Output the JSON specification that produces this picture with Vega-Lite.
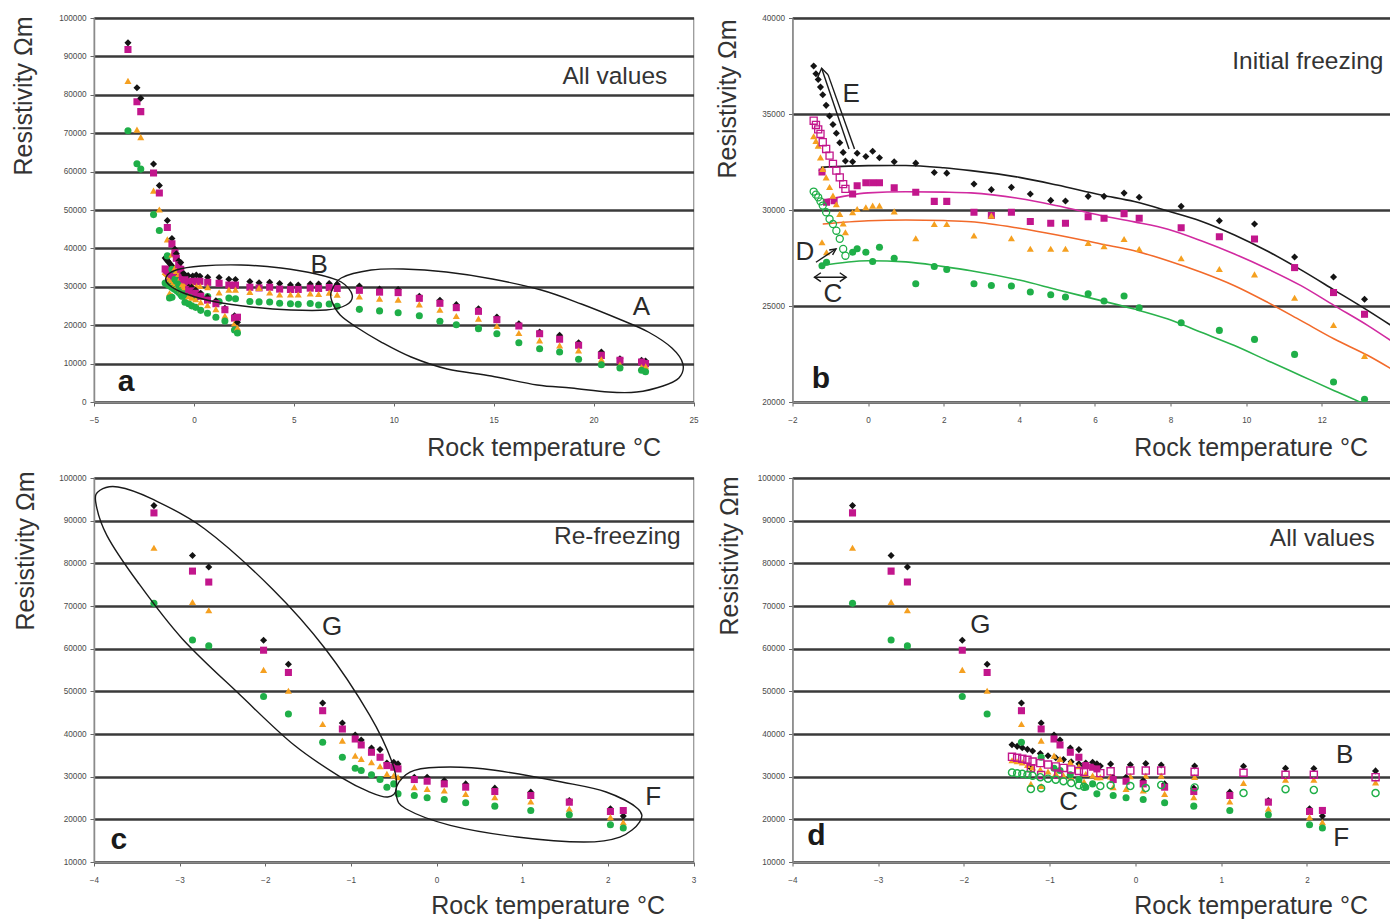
{
  "$schema": "https://vega.github.io/schema/vega-lite/v6.json",
  "background": "white",
  "padding": {"left": 10, "top": 12, "right": 0, "bottom": 0},
  "datasets": {
    "measurements": [
      {"phase": "IF", "stage": "main", "t": 22.6, "s1": 10700, "s2": 10000, "s3": 9300, "s4": 7900},
      {"phase": "IF", "stage": "main", "t": 22.4, "s1": 10850, "s2": 10420, "s3": 9110, "s4": 8250},
      {"phase": "IF", "stage": "main", "t": 21.32, "s1": 11280, "s2": 10850, "s3": 9720, "s4": 8850},
      {"phase": "IF", "stage": "main", "t": 20.39, "s1": 13020, "s2": 12150, "s3": 11110, "s4": 9720},
      {"phase": "IF", "stage": "main", "t": 19.25, "s1": 15450, "s2": 14760, "s3": 13460, "s4": 11110},
      {"phase": "IF", "stage": "main", "t": 18.3, "s1": 17360, "s2": 16320, "s3": 14760, "s4": 13020},
      {"phase": "IF", "stage": "main", "t": 17.3, "s1": 18230, "s2": 17790, "s3": 16060, "s4": 13890},
      {"phase": "IF", "stage": "main", "t": 16.26, "s1": 20400, "s2": 19790, "s3": 17970, "s4": 15450},
      {"phase": "IF", "stage": "main", "t": 15.16, "s1": 22130, "s2": 21440, "s3": 19790, "s4": 17790},
      {"phase": "IF", "stage": "main", "t": 14.24, "s1": 24300, "s2": 23610, "s3": 21700, "s4": 19100},
      {"phase": "IF", "stage": "main", "t": 13.13, "s1": 25350, "s2": 24570, "s3": 22400, "s4": 20140},
      {"phase": "IF", "stage": "main", "t": 12.31, "s1": 26510, "s2": 25700, "s3": 24010, "s4": 21040},
      {"phase": "IF", "stage": "main", "t": 11.28, "s1": 27550, "s2": 27000, "s3": 25430, "s4": 22480},
      {"phase": "IF", "stage": "main", "t": 10.22, "s1": 29270, "s2": 28490, "s3": 26650, "s4": 23260},
      {"phase": "IF", "stage": "main", "t": 9.29, "s1": 29440, "s2": 28610, "s3": 26930, "s4": 23730},
      {"phase": "IF", "stage": "main", "t": 8.28, "s1": 30190, "s2": 29080, "s3": 27490, "s4": 24130},
      {"phase": "IF", "stage": "main", "t": 7.17, "s1": 30660, "s2": 29570, "s3": 27970, "s4": 24910},
      {"phase": "IF", "stage": "main", "t": 6.77, "s1": 30880, "s2": 29810, "s3": 28490, "s4": 25520},
      {"phase": "IF", "stage": "main", "t": 6.24, "s1": 30710, "s2": 29570, "s3": 28110, "s4": 25260},
      {"phase": "IF", "stage": "main", "t": 5.82, "s1": 30710, "s2": 29650, "s3": 28290, "s4": 25640},
      {"phase": "IF", "stage": "main", "t": 5.22, "s1": 30470, "s2": 29310, "s3": 27980, "s4": 25470},
      {"phase": "IF", "stage": "main", "t": 4.83, "s1": 30500, "s2": 29310, "s3": 27980, "s4": 25590},
      {"phase": "IF", "stage": "main", "t": 4.29, "s1": 30830, "s2": 29400, "s3": 27980, "s4": 25730},
      {"phase": "IF", "stage": "main", "t": 3.79, "s1": 31180, "s2": 29880, "s3": 28530, "s4": 26040},
      {"phase": "IF", "stage": "main", "t": 3.26, "s1": 31060, "s2": 29710, "s3": 29710, "s4": 26070},
      {"phase": "IF", "stage": "main", "t": 2.8, "s1": 31350, "s2": 29880, "s3": 28670, "s4": 26160},
      {"phase": "IF", "stage": "main", "t": 2.08, "s1": 31920, "s2": 30450, "s3": 29270, "s4": 26900},
      {"phase": "IF", "stage": "main", "t": 1.75, "s1": 31950, "s2": 30450, "s3": 29270, "s4": 27060},
      {"phase": "IF", "stage": "main", "t": 1.26, "s1": 32440, "s2": 30920, "s3": 28530, "s4": 26160},
      {"phase": "IF", "stage": "main", "t": 0.69, "s1": 32510, "s2": 31160, "s3": 29930, "s4": 27490},
      {"phase": "IF", "stage": "main", "t": 0.3, "s1": 32720, "s2": 31420, "s3": 30230, "s4": 28060},
      {"phase": "IF", "stage": "main", "t": 0.12, "s1": 33060, "s2": 31420, "s3": 30230, "s4": 27320},
      {"phase": "IF", "stage": "main", "t": -0.06, "s1": 32790, "s2": 31420, "s3": 30140, "s4": 27800},
      {"phase": "IF", "stage": "main", "t": -0.29, "s1": 32960, "s2": 31260, "s3": 30050, "s4": 27980},
      {"phase": "IF", "stage": "main", "t": -0.41, "s1": 32510, "s2": 30830, "s3": 29880, "s4": 27800},
      {"phase": "IF", "stage": "main", "t": -1.22, "s1": 32050, "s2": 31980, "s3": 28320, "s4": 27100},
      {"phase": "IF", "stage": "main", "t": -1.1, "s1": null, "s2": 30400, "s3": 27800, "s4": 27280},
      {"phase": "IF", "stage": "main", "t": -0.9, "s1": null, "s2": 30490, "s3": null, "s4": null},
      {"phase": "IF", "stage": "transition", "t": -1.44, "s1": 37500, "s2": 34650, "s3": 33840, "s4": 30960},
      {"phase": "IF", "stage": "transition", "t": -1.38, "s1": 37100, "s2": 34430, "s3": 33600, "s4": 30800},
      {"phase": "IF", "stage": "transition", "t": -1.32, "s1": 36800, "s2": 34200, "s3": 33350, "s4": 30660},
      {"phase": "IF", "stage": "transition", "t": -1.26, "s1": 36400, "s2": 33960, "s3": 32740, "s4": 30450},
      {"phase": "IF", "stage": "transition", "t": -1.2, "s1": 36000, "s2": 33530, "s3": 32140, "s4": 30230},
      {"phase": "IF", "stage": "transition", "t": -1.11, "s1": 35450, "s2": 33180, "s3": 31700, "s4": 29880},
      {"phase": "IF", "stage": "transition", "t": -1.02, "s1": 34900, "s2": 32830, "s3": 31200, "s4": 29530},
      {"phase": "IF", "stage": "transition", "t": -0.93, "s1": 34450, "s2": 32400, "s3": 30750, "s4": 29270},
      {"phase": "IF", "stage": "transition", "t": -0.84, "s1": 34000, "s2": 32050, "s3": 30300, "s4": 28920},
      {"phase": "IF", "stage": "transition", "t": -0.75, "s1": 33500, "s2": 31700, "s3": 29800, "s4": 28500},
      {"phase": "IF", "stage": "transition", "t": -0.66, "s1": 33000, "s2": 31350, "s3": 29300, "s4": 27970},
      {"phase": "IF", "stage": "transition", "t": -0.6, "s1": 32550, "s2": 31100, "s3": 28840, "s4": 27620},
      {"phase": "RF", "stage": "main", "t": -3.3, "s1": 93530, "s2": 91820, "s3": 83640, "s4": 70620},
      {"phase": "RF", "stage": "main", "t": -2.85, "s1": 81840, "s2": 78180, "s3": 70940, "s4": 62050},
      {"phase": "RF", "stage": "main", "t": -2.66, "s1": 79120, "s2": 75610, "s3": 68990, "s4": 60650},
      {"phase": "RF", "stage": "main", "t": -2.02, "s1": 61970, "s2": 59640, "s3": 55040, "s4": 48800},
      {"phase": "RF", "stage": "main", "t": -1.73, "s1": 56360, "s2": 54420, "s3": 50130, "s4": 44680},
      {"phase": "RF", "stage": "main", "t": -1.33, "s1": 47250, "s2": 45460, "s3": 42340, "s4": 38050},
      {"phase": "RF", "stage": "main", "t": -1.1, "s1": 42570, "s2": 41170, "s3": 38440, "s4": 34550},
      {"phase": "RF", "stage": "main", "t": -0.95, "s1": 39770, "s2": 38830, "s3": 34940, "s4": 31980},
      {"phase": "RF", "stage": "main", "t": -0.88, "s1": 38600, "s2": 37430, "s3": 34160, "s4": 31430},
      {"phase": "RF", "stage": "main", "t": -0.76, "s1": 36730, "s2": 35720, "s3": 33380, "s4": 30420},
      {"phase": "RF", "stage": "main", "t": -0.66, "s1": 36340, "s2": 34550, "s3": 32450, "s4": 29330},
      {"phase": "RF", "stage": "main", "t": -0.58, "s1": 33220, "s2": 32600, "s3": 30650, "s4": 27540},
      {"phase": "RF", "stage": "main", "t": -0.5, "s1": 33380, "s2": 32210, "s3": 30260, "s4": 28310},
      {"phase": "RF", "stage": "main", "t": -0.45, "s1": 32990, "s2": 31820, "s3": 29870, "s4": 25970},
      {"phase": "RF", "stage": "main", "t": -0.26, "s1": 29870, "s2": 29330, "s3": 27540, "s4": 25590},
      {"phase": "RF", "stage": "main", "t": -0.11, "s1": 29870, "s2": 28940, "s3": 27150, "s4": 25040},
      {"phase": "RF", "stage": "main", "t": 0.09, "s1": 29090, "s2": 28310, "s3": 26760, "s4": 24650},
      {"phase": "RF", "stage": "main", "t": 0.34, "s1": 28310, "s2": 27540, "s3": 25970, "s4": 23870},
      {"phase": "RF", "stage": "main", "t": 0.68, "s1": 27310, "s2": 26520, "s3": 25190, "s4": 23090},
      {"phase": "RF", "stage": "main", "t": 1.1, "s1": 26370, "s2": 25590, "s3": 24180, "s4": 22080},
      {"phase": "RF", "stage": "main", "t": 1.55, "s1": 24420, "s2": 24030, "s3": 22470, "s4": 21070},
      {"phase": "RF", "stage": "main", "t": 2.03, "s1": 22470, "s2": 21850, "s3": 20520, "s4": 18730},
      {"phase": "RF", "stage": "main", "t": 2.18, "s1": 20760, "s2": 22080, "s3": 19350, "s4": 17950}
    ],
    "trend": [
      {"series": "s1", "t": -1.25, "res": 32220}, {"series": "s1", "t": 0, "res": 32310}, {"series": "s1", "t": 1, "res": 32320},
      {"series": "s1", "t": 2, "res": 32200}, {"series": "s1", "t": 2.72, "res": 32050}, {"series": "s1", "t": 4, "res": 31700},
      {"series": "s1", "t": 5, "res": 31300}, {"series": "s1", "t": 6.16, "res": 30780}, {"series": "s1", "t": 7.04, "res": 30440},
      {"series": "s1", "t": 7.93, "res": 29950}, {"series": "s1", "t": 8.81, "res": 29420}, {"series": "s1", "t": 9.69, "res": 28700},
      {"series": "s1", "t": 10.57, "res": 27850}, {"series": "s1", "t": 11.45, "res": 26880}, {"series": "s1", "t": 12.33, "res": 25830},
      {"series": "s1", "t": 13.22, "res": 24760}, {"series": "s1", "t": 13.9, "res": 23900},
      {"series": "s2", "t": -1.2, "res": 30490}, {"series": "s2", "t": 0, "res": 30890}, {"series": "s2", "t": 1, "res": 30950},
      {"series": "s2", "t": 2, "res": 30930}, {"series": "s2", "t": 2.72, "res": 30890}, {"series": "s2", "t": 4, "res": 30600},
      {"series": "s2", "t": 5, "res": 30220}, {"series": "s2", "t": 6.16, "res": 29710}, {"series": "s2", "t": 7.04, "res": 29380},
      {"series": "s2", "t": 7.93, "res": 29000}, {"series": "s2", "t": 8.81, "res": 28400}, {"series": "s2", "t": 9.69, "res": 27710},
      {"series": "s2", "t": 10.57, "res": 26930}, {"series": "s2", "t": 11.45, "res": 26060}, {"series": "s2", "t": 12.33, "res": 25020},
      {"series": "s2", "t": 13.22, "res": 23980}, {"series": "s2", "t": 13.9, "res": 23100},
      {"series": "s3", "t": -1.2, "res": 29270}, {"series": "s3", "t": 0, "res": 29440}, {"series": "s3", "t": 1, "res": 29480},
      {"series": "s3", "t": 2, "res": 29450}, {"series": "s3", "t": 2.72, "res": 29390}, {"series": "s3", "t": 4, "res": 29050},
      {"series": "s3", "t": 5, "res": 28700}, {"series": "s3", "t": 6.16, "res": 28230}, {"series": "s3", "t": 7.04, "res": 27880},
      {"series": "s3", "t": 7.93, "res": 27360}, {"series": "s3", "t": 8.81, "res": 26760}, {"series": "s3", "t": 9.69, "res": 26060},
      {"series": "s3", "t": 10.57, "res": 25190}, {"series": "s3", "t": 11.45, "res": 24240}, {"series": "s3", "t": 12.33, "res": 23280},
      {"series": "s3", "t": 13.22, "res": 22420}, {"series": "s3", "t": 13.9, "res": 21650},
      {"series": "s4", "t": -1.25, "res": 27100}, {"series": "s4", "t": 0, "res": 27360}, {"series": "s4", "t": 1, "res": 27300},
      {"series": "s4", "t": 2, "res": 27050}, {"series": "s4", "t": 2.72, "res": 26840}, {"series": "s4", "t": 4, "res": 26350},
      {"series": "s4", "t": 5, "res": 25850}, {"series": "s4", "t": 6.16, "res": 25280}, {"series": "s4", "t": 7.04, "res": 24840},
      {"series": "s4", "t": 7.93, "res": 24320}, {"series": "s4", "t": 8.81, "res": 23630}, {"series": "s4", "t": 9.69, "res": 22940},
      {"series": "s4", "t": 10.57, "res": 22150}, {"series": "s4", "t": 11.45, "res": 21370}, {"series": "s4", "t": 12.33, "res": 20590},
      {"series": "s4", "t": 13.0, "res": 20000}, {"series": "s4", "t": 13.5, "res": 19500}
    ],
    "arrows": [
      {"seg": "E1", "k": 0, "t": -0.505, "res": 33180}, {"seg": "E1", "k": 1, "t": -1.23, "res": 37380},
      {"seg": "E2", "k": 0, "t": -0.36, "res": 33180}, {"seg": "E2", "k": 1, "t": -1.06, "res": 37050},
      {"seg": "Eh", "k": 0, "t": -1.34, "res": 36875}, {"seg": "Eh", "k": 1, "t": -1.23, "res": 37380}, {"seg": "Eh", "k": 2, "t": -1.06, "res": 37050},
      {"seg": "D1", "k": 0, "t": -1.38, "res": 27280}, {"seg": "D1", "k": 1, "t": -0.85, "res": 27970},
      {"seg": "Dh", "k": 0, "t": -1.03, "res": 27920}, {"seg": "Dh", "k": 1, "t": -0.85, "res": 27970}, {"seg": "Dh", "k": 2, "t": -0.94, "res": 27660},
      {"seg": "C1", "k": 0, "t": -1.42, "res": 26500}, {"seg": "C1", "k": 1, "t": -0.58, "res": 26500},
      {"seg": "Ch1", "k": 0, "t": -1.25, "res": 26730}, {"seg": "Ch1", "k": 1, "t": -1.42, "res": 26500}, {"seg": "Ch1", "k": 2, "t": -1.25, "res": 26270},
      {"seg": "Ch2", "k": 0, "t": -0.75, "res": 26730}, {"seg": "Ch2", "k": 1, "t": -0.58, "res": 26500}, {"seg": "Ch2", "k": 2, "t": -0.75, "res": 26270}
    ],
    "ellipses": [
      {"panel": "a", "id": "B", "k": 0, "t": -1.39, "res": 32550},
      {"panel": "a", "id": "B", "k": 1, "t": -0.89, "res": 34370},
      {"panel": "a", "id": "B", "k": 2, "t": 0.36, "res": 35410},
      {"panel": "a", "id": "B", "k": 3, "t": 2.36, "res": 35670},
      {"panel": "a", "id": "B", "k": 4, "t": 4.36, "res": 34890},
      {"panel": "a", "id": "B", "k": 5, "t": 6.12, "res": 33330},
      {"panel": "a", "id": "B", "k": 6, "t": 7.37, "res": 31250},
      {"panel": "a", "id": "B", "k": 7, "t": 7.92, "res": 27860},
      {"panel": "a", "id": "B", "k": 8, "t": 7.62, "res": 25260},
      {"panel": "a", "id": "B", "k": 9, "t": 6.62, "res": 23960},
      {"panel": "a", "id": "B", "k": 10, "t": 4.86, "res": 23960},
      {"panel": "a", "id": "B", "k": 11, "t": 2.86, "res": 24740},
      {"panel": "a", "id": "B", "k": 12, "t": 1.11, "res": 26040},
      {"panel": "a", "id": "B", "k": 13, "t": -0.39, "res": 28120},
      {"panel": "a", "id": "B", "k": 14, "t": -1.24, "res": 30470},
      {"panel": "a", "id": "A", "k": 0, "t": 6.87, "res": 28640},
      {"panel": "a", "id": "A", "k": 1, "t": 7.37, "res": 32290},
      {"panel": "a", "id": "A", "k": 2, "t": 8.87, "res": 34370},
      {"panel": "a", "id": "A", "k": 3, "t": 10.47, "res": 34630},
      {"panel": "a", "id": "A", "k": 4, "t": 12.63, "res": 33850},
      {"panel": "a", "id": "A", "k": 5, "t": 14.93, "res": 32030},
      {"panel": "a", "id": "A", "k": 6, "t": 17.38, "res": 29160},
      {"panel": "a", "id": "A", "k": 7, "t": 19.39, "res": 25520},
      {"panel": "a", "id": "A", "k": 8, "t": 21.39, "res": 21350},
      {"panel": "a", "id": "A", "k": 9, "t": 22.74, "res": 18230},
      {"panel": "a", "id": "A", "k": 10, "t": 23.92, "res": 14060},
      {"panel": "a", "id": "A", "k": 11, "t": 24.47, "res": 9900},
      {"panel": "a", "id": "A", "k": 12, "t": 24.27, "res": 6250},
      {"panel": "a", "id": "A", "k": 13, "t": 23.47, "res": 4170},
      {"panel": "a", "id": "A", "k": 14, "t": 22.16, "res": 2600},
      {"panel": "a", "id": "A", "k": 15, "t": 20.74, "res": 2600},
      {"panel": "a", "id": "A", "k": 16, "t": 18.89, "res": 3650},
      {"panel": "a", "id": "A", "k": 17, "t": 17.18, "res": 4430},
      {"panel": "a", "id": "A", "k": 18, "t": 14.88, "res": 6770},
      {"panel": "a", "id": "A", "k": 19, "t": 12.68, "res": 8590},
      {"panel": "a", "id": "A", "k": 20, "t": 10.87, "res": 11720},
      {"panel": "a", "id": "A", "k": 21, "t": 9.37, "res": 15620},
      {"panel": "a", "id": "A", "k": 22, "t": 8.12, "res": 19530},
      {"panel": "a", "id": "A", "k": 23, "t": 7.32, "res": 22650},
      {"panel": "a", "id": "A", "k": 24, "t": 6.92, "res": 26040},
      {"panel": "c", "id": "G", "k": 0, "t": -3.93, "res": 97120},
      {"panel": "c", "id": "G", "k": 1, "t": -3.72, "res": 97890},
      {"panel": "c", "id": "G", "k": 2, "t": -3.33, "res": 95150},
      {"panel": "c", "id": "G", "k": 3, "t": -2.71, "res": 88120},
      {"panel": "c", "id": "G", "k": 4, "t": -1.92, "res": 74050},
      {"panel": "c", "id": "G", "k": 5, "t": -1.3, "res": 59990},
      {"panel": "c", "id": "G", "k": 6, "t": -0.78, "res": 44380},
      {"panel": "c", "id": "G", "k": 7, "t": -0.52, "res": 33430},
      {"panel": "c", "id": "G", "k": 8, "t": -0.47, "res": 27170},
      {"panel": "c", "id": "G", "k": 9, "t": -0.57, "res": 25230},
      {"panel": "c", "id": "G", "k": 10, "t": -0.78, "res": 26400},
      {"panel": "c", "id": "G", "k": 11, "t": -1.09, "res": 29520},
      {"panel": "c", "id": "G", "k": 12, "t": -1.66, "res": 37350},
      {"panel": "c", "id": "G", "k": 13, "t": -2.29, "res": 49070},
      {"panel": "c", "id": "G", "k": 14, "t": -2.97, "res": 62330},
      {"panel": "c", "id": "G", "k": 15, "t": -3.49, "res": 75620},
      {"panel": "c", "id": "G", "k": 16, "t": -3.85, "res": 86570},
      {"panel": "c", "id": "G", "k": 17, "t": -3.98, "res": 94370},
      {"panel": "c", "id": "F", "k": 0, "t": -0.44, "res": 28740},
      {"panel": "c", "id": "F", "k": 1, "t": -0.26, "res": 31490},
      {"panel": "c", "id": "F", "k": 2, "t": 0.16, "res": 32260},
      {"panel": "c", "id": "F", "k": 3, "t": 0.68, "res": 31490},
      {"panel": "c", "id": "F", "k": 4, "t": 1.46, "res": 28740},
      {"panel": "c", "id": "F", "k": 5, "t": 1.98, "res": 26400},
      {"panel": "c", "id": "F", "k": 6, "t": 2.35, "res": 22480},
      {"panel": "c", "id": "F", "k": 7, "t": 2.37, "res": 19370},
      {"panel": "c", "id": "F", "k": 8, "t": 2.14, "res": 15850},
      {"panel": "c", "id": "F", "k": 9, "t": 1.72, "res": 14680},
      {"panel": "c", "id": "F", "k": 10, "t": 0.94, "res": 15850},
      {"panel": "c", "id": "F", "k": 11, "t": 0.16, "res": 18590},
      {"panel": "c", "id": "F", "k": 12, "t": -0.36, "res": 22480},
      {"panel": "c", "id": "F", "k": 13, "t": -0.47, "res": 25620}
    ],
    "notes": [
      {"panel": "a", "kind": "title", "label": "All values", "t": 23.69, "res": 84630},
      {"panel": "a", "kind": "panel", "label": "a", "t": -3.4, "res": 5200},
      {"panel": "a", "kind": "letter", "label": "B", "t": 6.27, "res": 35670},
      {"panel": "a", "kind": "letter", "label": "A", "t": 22.39, "res": 24740},
      {"panel": "b", "kind": "title", "label": "Initial freezing", "t": 13.63, "res": 37710},
      {"panel": "b", "kind": "panel", "label": "b", "t": -1.25, "res": 21200},
      {"panel": "b", "kind": "letter", "label": "E", "t": -0.45, "res": 36040},
      {"panel": "b", "kind": "letter", "label": "D", "t": -1.67, "res": 27810},
      {"panel": "b", "kind": "letter", "label": "C", "t": -0.93, "res": 25620},
      {"panel": "c", "kind": "title", "label": "Re-freezing", "t": 2.85, "res": 86170},
      {"panel": "c", "kind": "panel", "label": "c", "t": -3.71, "res": 15150},
      {"panel": "c", "kind": "letter", "label": "G", "t": -1.22, "res": 65070},
      {"panel": "c", "kind": "letter", "label": "F", "t": 2.53, "res": 25230},
      {"panel": "d", "kind": "title", "label": "All values", "t": 2.79, "res": 85700},
      {"panel": "d", "kind": "panel", "label": "d", "t": -3.72, "res": 16090},
      {"panel": "d", "kind": "letter", "label": "G", "t": -1.81, "res": 65540},
      {"panel": "d", "kind": "letter", "label": "B", "t": 2.44, "res": 35070},
      {"panel": "d", "kind": "letter", "label": "C", "t": -0.78, "res": 24050},
      {"panel": "d", "kind": "letter", "label": "F", "t": 2.4, "res": 15620}
    ]
  },
  "columns": 2,
  "spacing": {"row": 76, "column": 98.5},
  "bounds": "flush",
  "align": "each",
  "concat": [
    {
      "width": 599.5,
      "height": 384,
      "encoding": {
        "x": {"field": "t", "type": "quantitative", "scale": {"domain": [-5, 25], "nice": false, "zero": false},
          "axis": {"values": [-5, 0, 5, 10, 15, 20, 25], "format": "d", "title": "Rock temperature °C", "titleX": 566.5, "titleY": 53, "titleAlign": "right", "titleBaseline": "alphabetic"}},
        "y": {"field": "res", "type": "quantitative", "scale": {"domain": [0, 100000], "nice": false, "zero": false},
          "axis": {"values": [0, 10000, 20000, 30000, 40000, 50000, 60000, 70000, 80000, 90000, 100000], "format": "d", "title": "Resistivity Ωm", "titleX": -62.5, "titleY": -2, "titleAlign": "right", "titleBaseline": "alphabetic", "titleAngle": 270}}
      },
      "layer": [
        {
          "data": {"values": [{}]},
          "mark": {"type": "rule", "color": "#151515", "strokeWidth": 1.6},
          "encoding": {"x": {"datum": 0, "type": "quantitative"}, "y": {"datum": 0, "type": "quantitative"}, "y2": {"datum": 100000}}
        },
        {
          "data": {"name": "measurements"},
          "transform": [{"fold": ["s1", "s2", "s3", "s4"], "as": ["series", "res"]}, {"filter": "isValid(datum.res)"}],
          "mark": {"type": "point", "filled": true, "opacity": 1, "clip": true},
          "encoding": {
            "color": {"field": "series", "type": "nominal", "scale": {"domain": ["s1", "s2", "s3", "s4"], "range": ["#141414", "#C2168C", "#F5A020", "#1FAF48"]}, "legend": null},
            "shape": {"field": "series", "type": "nominal", "scale": {"domain": ["s1", "s2", "s3", "s4"], "range": ["diamond", "square", "triangle-up", "circle"]}, "legend": null},
            "size": {"field": "series", "type": "ordinal", "scale": {"domain": ["s1", "s2", "s3", "s4"], "range": [50, 50, 55, 46]}, "legend": null}
          }
        },
        {
          "data": {"name": "ellipses"},
          "transform": [{"filter": "datum.panel == 'a'"}],
          "mark": {"type": "line", "interpolate": "cardinal-closed", "color": "#1a1a1a", "strokeWidth": 1.4, "clip": true},
          "encoding": {"detail": {"field": "id"}, "order": {"field": "k"}}
        },
        {
          "data": {"name": "notes"},
          "transform": [{"filter": "datum.panel == 'a' && datum.kind == 'title'"}],
          "mark": {"type": "text", "align": "right", "baseline": "middle", "fontSize": 24.5, "color": "#333"},
          "encoding": {"text": {"field": "label"}}
        },
        {
          "data": {"name": "notes"},
          "transform": [{"filter": "datum.panel == 'a' && datum.kind == 'panel'"}],
          "mark": {"type": "text", "align": "center", "baseline": "middle", "fontSize": 30, "fontWeight": "bold", "color": "#1a1a1a"},
          "encoding": {"text": {"field": "label"}}
        },
        {
          "data": {"name": "notes"},
          "transform": [{"filter": "datum.panel == 'a' && datum.kind == 'letter'"}],
          "mark": {"type": "text", "align": "center", "baseline": "middle", "fontSize": 26, "color": "#2a2a2a"},
          "encoding": {"text": {"field": "label"}}
        }
      ]
    },
    {
      "width": 598.5,
      "height": 384,
      "encoding": {
        "x": {"field": "t", "type": "quantitative", "scale": {"domain": [-2, 13.83], "nice": false, "zero": false},
          "axis": {"values": [-2, 0, 2, 4, 6, 8, 10, 12], "format": "d", "title": "Rock temperature °C", "titleX": 575, "titleY": 53, "titleAlign": "right", "titleBaseline": "alphabetic"}},
        "y": {"field": "res", "type": "quantitative", "scale": {"domain": [20000, 40000], "nice": false, "zero": false},
          "axis": {"values": [20000, 25000, 30000, 35000, 40000], "format": "d", "title": "Resistivity Ωm", "titleX": -57, "titleY": 1, "titleAlign": "right", "titleBaseline": "alphabetic", "titleAngle": 270}}
      },
      "layer": [
        {
          "data": {"values": [{}]},
          "mark": {"type": "rule", "color": "#151515", "strokeWidth": 1.6},
          "encoding": {"x": {"datum": 0, "type": "quantitative"}, "y": {"datum": 20000, "type": "quantitative"}, "y2": {"datum": 40000}}
        },
        {
          "data": {"name": "trend"},
          "mark": {"type": "line", "interpolate": "monotone", "strokeWidth": 1.6, "clip": true},
          "encoding": {
            "stroke": {"field": "series", "type": "nominal", "scale": {"domain": ["s1", "s2", "s3", "s4"], "range": ["#1c1c1c", "#D12AA0", "#F26A2A", "#2AB24C"]}, "legend": null},
            "detail": {"field": "series"}
          }
        },
        {
          "data": {"name": "measurements"},
          "transform": [
            {"filter": "datum.phase == 'IF'"},
            {"fold": ["s1", "s2", "s3", "s4"], "as": ["series", "res"]},
            {"filter": "isValid(datum.res) && !(datum.stage == 'transition' && (datum.series == 's2' || datum.series == 's4'))"}
          ],
          "mark": {"type": "point", "filled": true, "opacity": 1, "clip": true},
          "encoding": {
            "color": {"field": "series", "type": "nominal", "scale": {"domain": ["s1", "s2", "s3", "s4"], "range": ["#141414", "#C2168C", "#F5A020", "#1FAF48"]}, "legend": null},
            "shape": {"field": "series", "type": "nominal", "scale": {"domain": ["s1", "s2", "s3", "s4"], "range": ["diamond", "square", "triangle-up", "circle"]}, "legend": null},
            "size": {"field": "series", "type": "ordinal", "scale": {"domain": ["s1", "s2", "s3", "s4"], "range": [44, 46, 50, 42]}, "legend": null}
          }
        },
        {
          "data": {"name": "measurements"},
          "transform": [
            {"filter": "datum.phase == 'IF' && datum.stage == 'transition'"},
            {"fold": ["s2", "s4"], "as": ["series", "res"]},
            {"filter": "isValid(datum.res)"}
          ],
          "mark": {"type": "point", "filled": false, "opacity": 1, "strokeWidth": 1.3, "clip": true},
          "encoding": {
            "color": {"field": "series", "type": "nominal", "scale": {"domain": ["s1", "s2", "s3", "s4"], "range": ["#141414", "#C2168C", "#F5A020", "#1FAF48"]}, "legend": null},
            "shape": {"field": "series", "type": "nominal", "scale": {"domain": ["s1", "s2", "s3", "s4"], "range": ["diamond", "square", "triangle-up", "circle"]}, "legend": null},
            "size": {"field": "series", "type": "ordinal", "scale": {"domain": ["s1", "s2", "s3", "s4"], "range": [44, 46, 50, 42]}, "legend": null}
          }
        },
        {
          "data": {"name": "arrows"},
          "mark": {"type": "line", "color": "#1a1a1a", "strokeWidth": 1.4, "clip": true},
          "encoding": {"detail": {"field": "seg"}, "order": {"field": "k"}}
        },
        {
          "data": {"name": "notes"},
          "transform": [{"filter": "datum.panel == 'b' && datum.kind == 'title'"}],
          "mark": {"type": "text", "align": "right", "baseline": "middle", "fontSize": 24.5, "color": "#333"},
          "encoding": {"text": {"field": "label"}}
        },
        {
          "data": {"name": "notes"},
          "transform": [{"filter": "datum.panel == 'b' && datum.kind == 'panel'"}],
          "mark": {"type": "text", "align": "center", "baseline": "middle", "fontSize": 30, "fontWeight": "bold", "color": "#1a1a1a"},
          "encoding": {"text": {"field": "label"}}
        },
        {
          "data": {"name": "notes"},
          "transform": [{"filter": "datum.panel == 'b' && datum.kind == 'letter'"}],
          "mark": {"type": "text", "align": "center", "baseline": "middle", "fontSize": 26, "color": "#2a2a2a"},
          "encoding": {"text": {"field": "label"}}
        }
      ]
    },
    {
      "width": 599.5,
      "height": 384,
      "encoding": {
        "x": {"field": "t", "type": "quantitative", "scale": {"domain": [-4, 3], "nice": false, "zero": false},
          "axis": {"values": [-4, -3, -2, -1, 0, 1, 2, 3], "format": "d", "title": "Rock temperature °C", "titleX": 570.5, "titleY": 51, "titleAlign": "right", "titleBaseline": "alphabetic"}},
        "y": {"field": "res", "type": "quantitative", "scale": {"domain": [10000, 100000], "nice": false, "zero": false},
          "axis": {"values": [10000, 20000, 30000, 40000, 50000, 60000, 70000, 80000, 90000, 100000], "format": "d", "title": "Resistivity Ωm", "titleX": -60.5, "titleY": -7, "titleAlign": "right", "titleBaseline": "alphabetic", "titleAngle": 270}}
      },
      "layer": [
        {
          "data": {"values": [{}]},
          "mark": {"type": "rule", "color": "#151515", "strokeWidth": 1.6},
          "encoding": {"x": {"datum": 0, "type": "quantitative"}, "y": {"datum": 10000, "type": "quantitative"}, "y2": {"datum": 100000}}
        },
        {
          "data": {"name": "measurements"},
          "transform": [{"filter": "datum.phase == 'RF'"}, {"fold": ["s1", "s2", "s3", "s4"], "as": ["series", "res"]}, {"filter": "isValid(datum.res)"}],
          "mark": {"type": "point", "filled": true, "opacity": 1, "clip": true},
          "encoding": {
            "color": {"field": "series", "type": "nominal", "scale": {"domain": ["s1", "s2", "s3", "s4"], "range": ["#141414", "#C2168C", "#F5A020", "#1FAF48"]}, "legend": null},
            "shape": {"field": "series", "type": "nominal", "scale": {"domain": ["s1", "s2", "s3", "s4"], "range": ["diamond", "square", "triangle-up", "circle"]}, "legend": null},
            "size": {"field": "series", "type": "ordinal", "scale": {"domain": ["s1", "s2", "s3", "s4"], "range": [50, 50, 55, 46]}, "legend": null}
          }
        },
        {
          "data": {"name": "ellipses"},
          "transform": [{"filter": "datum.panel == 'c'"}],
          "mark": {"type": "line", "interpolate": "cardinal-closed", "color": "#1a1a1a", "strokeWidth": 1.4, "clip": true},
          "encoding": {"detail": {"field": "id"}, "order": {"field": "k"}}
        },
        {
          "data": {"name": "notes"},
          "transform": [{"filter": "datum.panel == 'c' && datum.kind == 'title'"}],
          "mark": {"type": "text", "align": "right", "baseline": "middle", "fontSize": 24.5, "color": "#333"},
          "encoding": {"text": {"field": "label"}}
        },
        {
          "data": {"name": "notes"},
          "transform": [{"filter": "datum.panel == 'c' && datum.kind == 'panel'"}],
          "mark": {"type": "text", "align": "center", "baseline": "middle", "fontSize": 30, "fontWeight": "bold", "color": "#1a1a1a"},
          "encoding": {"text": {"field": "label"}}
        },
        {
          "data": {"name": "notes"},
          "transform": [{"filter": "datum.panel == 'c' && datum.kind == 'letter'"}],
          "mark": {"type": "text", "align": "center", "baseline": "middle", "fontSize": 26, "color": "#2a2a2a"},
          "encoding": {"text": {"field": "label"}}
        }
      ]
    },
    {
      "width": 598.5,
      "height": 384,
      "encoding": {
        "x": {"field": "t", "type": "quantitative", "scale": {"domain": [-4, 2.98], "nice": false, "zero": false},
          "axis": {"values": [-4, -3, -2, -1, 0, 1, 2], "format": "d", "title": "Rock temperature °C", "titleX": 575, "titleY": 51, "titleAlign": "right", "titleBaseline": "alphabetic"}},
        "y": {"field": "res", "type": "quantitative", "scale": {"domain": [10000, 100000], "nice": false, "zero": false},
          "axis": {"values": [10000, 20000, 30000, 40000, 50000, 60000, 70000, 80000, 90000, 100000], "format": "d", "title": "Resistivity Ωm", "titleX": -55, "titleY": -2, "titleAlign": "right", "titleBaseline": "alphabetic", "titleAngle": 270}}
      },
      "layer": [
        {
          "data": {"values": [{}]},
          "mark": {"type": "rule", "color": "#151515", "strokeWidth": 1.6},
          "encoding": {"x": {"datum": 0, "type": "quantitative"}, "y": {"datum": 10000, "type": "quantitative"}, "y2": {"datum": 100000}}
        },
        {
          "data": {"name": "measurements"},
          "transform": [
            {"fold": ["s1", "s2", "s3", "s4"], "as": ["series", "res"]},
            {"filter": "isValid(datum.res) && (datum.phase == 'RF' || datum.series == 's1' || datum.series == 's3')"}
          ],
          "mark": {"type": "point", "filled": true, "opacity": 1, "clip": true},
          "encoding": {
            "color": {"field": "series", "type": "nominal", "scale": {"domain": ["s1", "s2", "s3", "s4"], "range": ["#141414", "#C2168C", "#F5A020", "#1FAF48"]}, "legend": null},
            "shape": {"field": "series", "type": "nominal", "scale": {"domain": ["s1", "s2", "s3", "s4"], "range": ["diamond", "square", "triangle-up", "circle"]}, "legend": null},
            "size": {"field": "series", "type": "ordinal", "scale": {"domain": ["s1", "s2", "s3", "s4"], "range": [50, 50, 55, 46]}, "legend": null}
          }
        },
        {
          "data": {"name": "measurements"},
          "transform": [
            {"filter": "datum.phase == 'IF'"},
            {"fold": ["s2", "s4"], "as": ["series", "res"]},
            {"filter": "isValid(datum.res)"}
          ],
          "mark": {"type": "point", "filled": false, "opacity": 1, "strokeWidth": 1.4, "clip": true},
          "encoding": {
            "color": {"field": "series", "type": "nominal", "scale": {"domain": ["s1", "s2", "s3", "s4"], "range": ["#141414", "#C2168C", "#F5A020", "#1FAF48"]}, "legend": null},
            "shape": {"field": "series", "type": "nominal", "scale": {"domain": ["s1", "s2", "s3", "s4"], "range": ["diamond", "square", "triangle-up", "circle"]}, "legend": null},
            "size": {"field": "series", "type": "ordinal", "scale": {"domain": ["s1", "s2", "s3", "s4"], "range": [50, 50, 55, 46]}, "legend": null}
          }
        },
        {
          "data": {"name": "notes"},
          "transform": [{"filter": "datum.panel == 'd' && datum.kind == 'title'"}],
          "mark": {"type": "text", "align": "right", "baseline": "middle", "fontSize": 24.5, "color": "#333"},
          "encoding": {"text": {"field": "label"}}
        },
        {
          "data": {"name": "notes"},
          "transform": [{"filter": "datum.panel == 'd' && datum.kind == 'panel'"}],
          "mark": {"type": "text", "align": "center", "baseline": "middle", "fontSize": 30, "fontWeight": "bold", "color": "#1a1a1a"},
          "encoding": {"text": {"field": "label"}}
        },
        {
          "data": {"name": "notes"},
          "transform": [{"filter": "datum.panel == 'd' && datum.kind == 'letter'"}],
          "mark": {"type": "text", "align": "center", "baseline": "middle", "fontSize": 26, "color": "#2a2a2a"},
          "encoding": {"text": {"field": "label"}}
        }
      ]
    }
  ],
  "config": {
    "font": "Liberation Sans",
    "view": {"stroke": "#9a9a9a", "strokeWidth": 1.3},
    "text": {"font": "Liberation Sans"},
    "axis": {
      "labelFont": "Liberation Sans",
      "labelFontSize": 8.2,
      "labelColor": "#4a4a4a",
      "labelOverlap": false,
      "labelFlush": false,
      "tickColor": "#666666",
      "tickSize": 4,
      "domainColor": "#8a8a8a",
      "domainWidth": 1.5,
      "titleFont": "Liberation Sans",
      "titleFontSize": 25,
      "titleFontWeight": "normal",
      "titleColor": "#333333",
      "gridColor": "#3a3a3a",
      "gridWidth": 2.4,
      "gridOpacity": 1
    },
    "axisX": {"grid": false, "labelPadding": 10},
    "axisY": {"grid": true, "labelPadding": 4}
  }
}
